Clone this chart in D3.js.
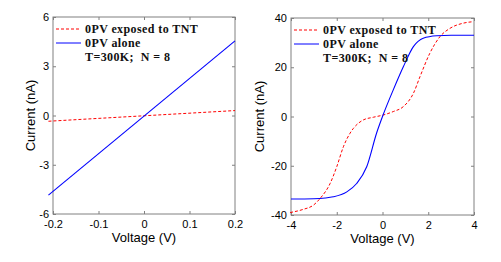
<!DOCTYPE html>
<html>
<head>
<meta charset="utf-8">
<script src="https://cdn.jsdelivr.net/npm/d3@7/dist/d3.min.js"></script>
<style>
  body { margin: 0; background: #fff; }
  svg { display: block; }
  .tick text { font-family: Arial, "Liberation Sans", sans-serif; font-size: 11px; fill: #000; }
  .title { font-family: Arial, "Liberation Sans", sans-serif; font-size: 13px; fill: #000; }
  .legend { font-family: "Liberation Serif", "Times New Roman", serif; font-size: 12px; font-weight: bold; fill: #111; letter-spacing: 0.4px; }
</style>
</head>
<body>
<svg id="chart" width="501" height="262"></svg>
<script>
// left panel: small bias
var leftVoltage = [-0.21, 0.2];
var leftExposed = [-0.35, 0.3];
var leftAlone = [-4.85, 4.55];
var leftXTicks = [-0.2, -0.1, 0, 0.1, 0.2];
var leftYTicks = [-6, -3, 0, 3, 6];

// right panel: wide bias
var rightAloneV = [-4, -3, -2.5, -2.15, -1.56, -1.13, -0.69, -0.25, 0, 0.47, 0.91, 1.35, 1.78, 2.37, 3, 4];
var rightAloneI = [-33.5, -33.4, -33.1, -32.6, -30.6, -27.2, -20.4, -6.5, 0, 10.8, 20.2, 28.4, 31.8, 32.8, 33, 33];
var rightExposedV = [-4.04, -3.46, -3.02, -2.73, -2.29, -2.0, -1.71, -1.42, -1.27, -0.84, -0.4, 0.03, 0.47, 0.91, 1.35, 1.64, 2.07, 2.51, 2.95, 3.53, 3.97];
var rightExposedI = [-39, -37.7, -36, -33.3, -27.2, -20.4, -12.3, -6.8, -4.8, -1.4, -0.3, 0.6, 2.0, 4.0, 9.4, 16.2, 25.7, 32.4, 35.8, 37.9, 38.5];
var rightXTicks = [-4, -2, 0, 2, 4];
var rightYTicks = [-40, -20, 0, 20, 40];

var legendLabels = ["0PV exposed to TNT", "0PV alone"];
var legendNote = "T=300K;  N = 8";

var svg = d3.select('#chart');

function panel(opts) {
  var x = d3.scaleLinear().domain(opts.xDomain).range([opts.left, opts.right]);
  var y = d3.scaleLinear().domain(opts.yDomain).range([opts.bottom, opts.top]);
  var g = svg.append('g');

  // box
  g.append('rect')
    .attr('x', opts.left).attr('y', opts.top)
    .attr('width', opts.right - opts.left).attr('height', opts.bottom - opts.top)
    .attr('fill', 'none').attr('stroke', '#808080').attr('stroke-width', 1);

  var axB = g.append('g').attr('transform', 'translate(0,' + opts.bottom + ')')
    .call(d3.axisBottom(x).tickValues(opts.xTicks).tickSize(-3).tickPadding(6).tickFormat(d3.format('')));
  var axL = g.append('g').attr('transform', 'translate(' + opts.left + ',0)')
    .call(d3.axisLeft(y).tickValues(opts.yTicks).tickSize(-3).tickPadding(4).tickFormat(d3.format('')));
  var axT = g.append('g').attr('transform', 'translate(0,' + opts.top + ')')
    .call(d3.axisTop(x).tickValues(opts.xTicks).tickSize(-3).tickFormat(''));
  var axR = g.append('g').attr('transform', 'translate(' + opts.right + ',0)')
    .call(d3.axisRight(y).tickValues(opts.yTicks).tickSize(-3).tickFormat(''));
  [axB, axL, axT, axR].forEach(function(a) {
    a.select('.domain').remove();
    a.selectAll('.tick line').attr('stroke', '#808080');
  });
  axB.selectAll('.tick text').text(function(d) { return d < 0 ? '-' + Math.abs(d) : d; });
  axL.selectAll('.tick text').text(function(d) { return d < 0 ? '-' + Math.abs(d) : d; });

  var line = d3.line().x(function(d) { return x(d[0]); }).y(function(d) { return y(d[1]); });

  g.append('path').datum(d3.zip(opts.exposedV, opts.exposedI))
    .attr('d', line.curve(d3.curveMonotoneX))
    .attr('fill', 'none').attr('stroke', '#ff0000').attr('stroke-width', 1)
    .attr('stroke-dasharray', '3,2');
  g.append('path').datum(d3.zip(opts.aloneV, opts.aloneI))
    .attr('d', line.curve(d3.curveMonotoneX))
    .attr('fill', 'none').attr('stroke', '#0000ff').attr('stroke-width', 1.1);

  // legend
  var lx = opts.left + 3, ly = opts.top + 12;
  g.append('line').attr('x1', lx).attr('x2', lx + 25).attr('y1', ly).attr('y2', ly)
    .attr('stroke', '#ff0000').attr('stroke-dasharray', '3,2');
  g.append('line').attr('x1', lx).attr('x2', lx + 25).attr('y1', ly + 14).attr('y2', ly + 14)
    .attr('stroke', '#0000ff');
  g.append('text').attr('class', 'legend').attr('x', lx + 29).attr('y', ly + 4).text(legendLabels[0]);
  g.append('text').attr('class', 'legend').attr('x', lx + 29).attr('y', ly + 18).text(legendLabels[1]);
  g.append('text').attr('class', 'legend').attr('x', lx + 29).attr('y', ly + 32).attr('xml:space', 'preserve').text(legendNote);

  g.append('text').attr('class', 'title')
    .attr('x', (opts.left + opts.right) / 2).attr('y', opts.bottom + 28)
    .attr('text-anchor', 'middle').text('Voltage (V)');
  g.append('text').attr('class', 'title')
    .attr('transform', 'translate(' + opts.ylabelX + ',' + (opts.top + opts.bottom) / 2 + ') rotate(-90)')
    .attr('text-anchor', 'middle').text('Current (nA)');
}

panel({
  left: 53, right: 235, top: 17, bottom: 214,
  xDomain: [-0.2, 0.2], yDomain: [-6, 6],
  xTicks: leftXTicks, yTicks: leftYTicks,
  exposedV: leftVoltage, exposedI: leftExposed,
  aloneV: leftVoltage, aloneI: leftAlone,
  ylabelX: 35
});

panel({
  left: 291, right: 474, top: 18, bottom: 215,
  xDomain: [-4, 4], yDomain: [-40, 40],
  xTicks: rightXTicks, yTicks: rightYTicks,
  exposedV: rightExposedV, exposedI: rightExposedI,
  aloneV: rightAloneV, aloneI: rightAloneI,
  ylabelX: 264
});
</script>
</body>
</html>
